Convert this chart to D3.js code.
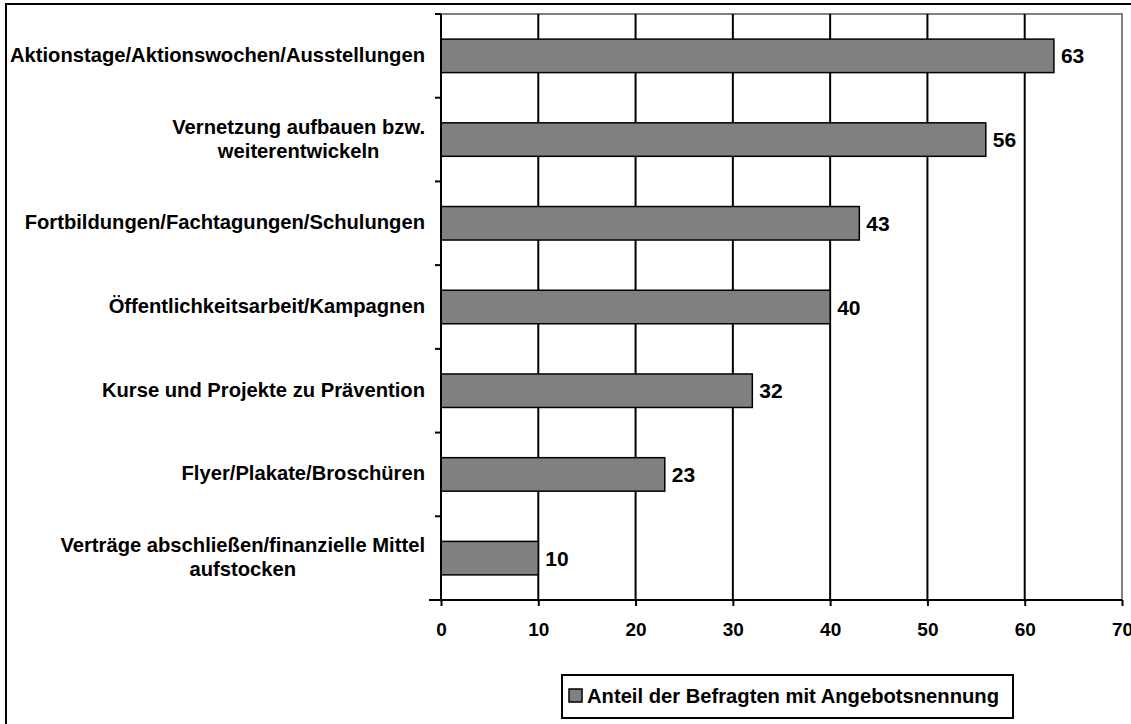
<!DOCTYPE html>
<html>
<head>
<meta charset="utf-8">
<script src="https://cdn.jsdelivr.net/npm/d3@7"></script>
<style>
  html, body { margin: 0; padding: 0; background: #fff; }
  svg { display: block; font-family: "Liberation Sans", Arial, sans-serif; font-weight: bold; }
</style>
</head>
<body>
<svg id="chart" width="1131" height="724"></svg>
<script>
// Angebotsbereiche (top to bottom); "\n" marks a line break in the label
const categories = [
  "Aktionstage/Aktionswochen/Ausstellungen",
  "Vernetzung aufbauen bzw.\nweiterentwickeln",
  "Fortbildungen/Fachtagungen/Schulungen",
  "Öffentlichkeitsarbeit/Kampagnen",
  "Kurse und Projekte zu Prävention",
  "Flyer/Plakate/Broschüren",
  "Verträge abschließen/finanzielle Mittel\naufstocken"
];
const values = [63, 56, 43, 40, 32, 23, 10];
const xTicks = [0, 10, 20, 30, 40, 50, 60, 70];
const seriesName = "Anteil der Befragten mit Angebotsnennung";

const svg = d3.select("#chart");
const W = 1131, H = 724;
const plot = { left: 441, top: 14, right: 1122, bottom: 600 };

// outer chart frame (runs past the right and bottom edges)
svg.append("rect")
  .attr("x", 6).attr("y", 4)
  .attr("width", W + 20).attr("height", H + 20)
  .attr("fill", "#fff").attr("stroke", "#000").attr("stroke-width", 2);

const x = d3.scaleLinear().domain([0, 70]).range([plot.left, plot.right]);
const y = d3.scaleBand().domain(d3.range(categories.length))
  .range([plot.top, plot.bottom]).paddingInner(0.6).paddingOuter(0.3);

// plot area border (grey)
svg.append("rect")
  .attr("x", plot.left).attr("y", plot.top)
  .attr("width", plot.right - plot.left).attr("height", plot.bottom - plot.top)
  .attr("fill", "none").attr("stroke", "#808080").attr("stroke-width", 2);

// vertical gridlines
svg.append("g").selectAll("line")
  .data(xTicks.filter(t => t > 0 && t < 70))
  .join("line")
  .attr("x1", d => x(d)).attr("x2", d => x(d))
  .attr("y1", plot.top).attr("y2", plot.bottom)
  .attr("stroke", "#000").attr("stroke-width", 2);

// bars
svg.append("g").selectAll("rect")
  .data(values)
  .join("rect")
  .attr("x", x(0))
  .attr("y", (d, i) => y(i))
  .attr("width", d => x(d) - x(0))
  .attr("height", y.bandwidth())
  .attr("fill", "#808080")
  .attr("stroke", "#000").attr("stroke-width", 1.5);

// value labels
svg.append("g").selectAll("text")
  .data(values)
  .join("text")
  .attr("x", d => x(d) + 7)
  .attr("y", (d, i) => y(i) + y.bandwidth() / 2 + 7.5)
  .attr("font-size", 21)
  .attr("fill", "#000")
  .text(d => d);

// x axis
const xAxis = d3.axisBottom(x).tickValues(xTicks).tickSize(6).tickPadding(17);
const gx = svg.append("g").attr("transform", `translate(0,${plot.bottom})`).call(xAxis);
gx.select(".domain").attr("stroke", "#000").attr("stroke-width", 2)
  .attr("d", `M${plot.left - 12},0H${plot.right}`);
gx.selectAll(".tick line").attr("stroke", "#000").attr("stroke-width", 2);
gx.selectAll(".tick text")
  .attr("font-size", 19).attr("font-weight", "bold")
  .attr("font-family", "'Liberation Sans', Arial, sans-serif")
  .attr("fill", "#000");

// y axis line and ticks at band boundaries
const step = y.step();
const bounds = d3.range(categories.length + 1).map(i => plot.top + i * step);
svg.append("line")
  .attr("x1", plot.left).attr("x2", plot.left)
  .attr("y1", plot.top).attr("y2", plot.bottom)
  .attr("stroke", "#000").attr("stroke-width", 2);
svg.append("g").selectAll("line")
  .data(bounds)
  .join("line")
  .attr("x1", plot.left - 6).attr("x2", plot.left)
  .attr("y1", d => d).attr("y2", d => d)
  .attr("stroke", "#000").attr("stroke-width", 2);

// category labels: lines centred within a block that is right-aligned
const labelRight = 425, labelSize = 20.2, lineGap = 24;
categories.forEach((c, i) => {
  const lines = c.split("\n");
  const g = svg.append("g");
  const texts = g.selectAll("text").data(lines).join("text")
    .attr("font-size", labelSize).attr("fill", "#000")
    .attr("text-anchor", "middle")
    .text(d => d);
  const blockW = d3.max(texts.nodes(), n => n.getComputedTextLength());
  const cy = y(i) + y.bandwidth() / 2;
  const first = cy - (lines.length - 1) * lineGap / 2 + 6;
  texts.attr("x", labelRight - blockW / 2)
    .attr("y", (d, k) => first + k * lineGap);
});

// legend
const leg = svg.append("g");
leg.append("rect")
  .attr("x", 562).attr("y", 675).attr("width", 451).attr("height", 43)
  .attr("fill", "#fff").attr("stroke", "#000").attr("stroke-width", 2);
leg.append("rect")
  .attr("x", 569).attr("y", 689).attr("width", 13).attr("height", 13)
  .attr("fill", "#808080").attr("stroke", "#000").attr("stroke-width", 1.5);
leg.append("text")
  .attr("x", 587).attr("y", 703)
  .attr("font-size", 20.2).attr("fill", "#000")
  .text(seriesName);
</script>
</body>
</html>
